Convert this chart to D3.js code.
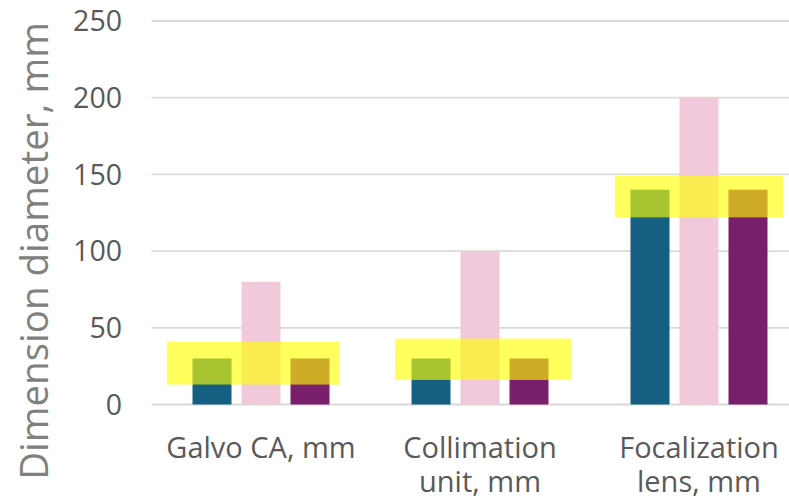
<!DOCTYPE html>
<html>
<head>
<meta charset="utf-8">
<script src="https://cdn.jsdelivr.net/npm/d3@7"></script>
<style>
  body { margin: 0; background: #fff; }
  svg { display: block; }
</style>
</head>
<body>
<svg id="chart" width="789" height="500"></svg>
<script>
// Component dimensions (mm) for three design options
const categories = [["Galvo CA, mm"], ["Collimation", "unit, mm"], ["Focalization", "lens, mm"]];
const seriesNames = ["Option A", "Option B", "Option C"];
const optionA = [30, 30, 140];
const optionB = [80, 100, 200];
const optionC = [30, 30, 140];
const yTicks = [0, 50, 100, 150, 200, 250];
// Highlighted ranges (mm) drawn over each group
const highlightLow = [13, 16, 122];
const highlightHigh = [41, 43, 149];

const seriesColors = ["#156082", "#F2C9DA", "#7A1F6C"];

const width = 789, height = 500;
const margin = { left: 151.5, right: -19.5, top: 21, bottom: 95.5 };

const svg = d3.select("#chart");

const x = d3.scaleBand()
  .domain(d3.range(categories.length))
  .range([margin.left, width - margin.right])
  .paddingInner(0).paddingOuter(0);

const y = d3.scaleLinear()
  .domain([0, 250])
  .range([height - margin.bottom, margin.top]);

// inner band for the three bars of a group
const xs = d3.scaleBand()
  .domain(d3.range(seriesNames.length))
  .range([0, x.bandwidth()])
  .paddingInner(0.204)
  .paddingOuter(0.837);

// gridlines
svg.append("g")
  .selectAll("line")
  .data(yTicks)
  .join("line")
  .attr("x1", margin.left)
  .attr("x2", width)
  .attr("y1", d => y(d))
  .attr("y2", d => y(d))
  .attr("stroke", "#D9D9D9")
  .attr("stroke-width", 1.8);

// y tick labels
svg.append("g")
  .selectAll("text")
  .data(yTicks)
  .join("text")
  .attr("x", 122)
  .attr("y", d => y(d))
  .attr("dy", "0.36em")
  .attr("text-anchor", "end")
  .attr("font-family", "Open Sans")
  .attr("font-size", 28.5)
  .attr("fill", "#595959")
  .text(d => d);

// y axis title
svg.append("text")
  .attr("transform", "translate(48, 251) rotate(-90)")
  .attr("text-anchor", "middle")
  .attr("font-family", "Open Sans")
  .attr("font-size", 38.5)
  .attr("fill", "#808080")
  .text("Dimension diameter, mm");

// bars
const series = [optionA, optionB, optionC];
const groups = svg.append("g")
  .selectAll("g")
  .data(categories.map((c, i) => i))
  .join("g")
  .attr("transform", i => `translate(${x(i)},0)`);

groups.selectAll("rect")
  .data(i => series.map((s, k) => ({ k, v: s[i] })))
  .join("rect")
  .attr("x", d => xs(d.k))
  .attr("width", xs.bandwidth())
  .attr("y", d => y(d.v))
  .attr("height", d => y(0) - y(d.v))
  .attr("fill", d => seriesColors[d.k]);

// highlight boxes, inset from the edges of each category band
const hlLeft = [15.5, 24.5, 25.5];
const hlRight = [187.5, 200.5, 193.5];
svg.append("g")
  .selectAll("rect")
  .data(categories.map((c, i) => i))
  .join("rect")
  .attr("x", i => x(i) + hlLeft[i])
  .attr("width", i => hlRight[i] - hlLeft[i])
  .attr("y", i => y(highlightHigh[i]))
  .attr("height", i => y(highlightLow[i]) - y(highlightHigh[i]))
  .attr("fill", "#FFFF00")
  .attr("fill-opacity", 0.63);

// category labels
const lab = svg.append("g")
  .selectAll("text")
  .data(categories.map((c, i) => i))
  .join("text")
  .attr("text-anchor", "middle")
  .attr("font-family", "Open Sans")
  .attr("font-size", 29)
  .attr("fill", "#595959");
lab.selectAll("tspan")
  .data(i => categories[i].map(t => ({ t, i })))
  .join("tspan")
  .attr("x", d => x(d.i) + x.bandwidth() / 2)
  .attr("y", (d, j) => 458 + j * 34)
  .text(d => d.t);
</script>
</body>
</html>
